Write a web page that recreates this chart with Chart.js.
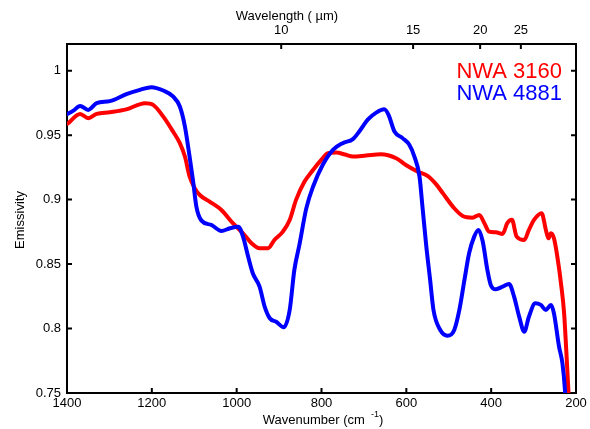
<!DOCTYPE html>
<html>
<head>
<meta charset="utf-8">
<script src="https://cdn.jsdelivr.net/npm/chart.js@4/dist/chart.umd.min.js"></script>
<style>
html,body{margin:0;padding:0;background:#fff;}
#wrap{width:590px;height:429px;}
</style>
</head>
<body>
<div id="wrap"><canvas id="c" width="590" height="429"></canvas></div>
<script>
// ---- data ----
const wavenumberTicks = [1400, 1200, 1000, 800, 600, 400, 200];
const emissivityTicks = [0.75, 0.8, 0.85, 0.9, 0.95, 1];
const wavelengthTickLabels = ['10', '15', '20', '25'];
const wavelengthTickWavenumbers = [895, 584, 426, 330];

const nwa3160Wavenumber = [1398,1369,1350,1330,1299,1260,1216,1197,1173,1150,1134,1122,1111,1099,1087,1064,1036,1009,985,965,946,926,911,891,875,860,840,820,800,785,765,745,726,695,660,624,601,573,550,530,514,487,467,444,428,416,405,389,373,362,351,340,322,311,299,281,271,265,259,252,244,234,228,223,218,216];
const nwa3160Emissivity = [0.959,0.9665,0.9632,0.9665,0.9678,0.970,0.9748,0.9735,0.9644,0.9528,0.9438,0.9334,0.918,0.9089,0.9036,0.8985,0.892,0.8817,0.8739,0.8662,0.8623,0.8623,0.8687,0.8752,0.8842,0.8998,0.914,0.923,0.931,0.936,0.9365,0.935,0.9334,0.9342,0.9352,0.9321,0.9269,0.9217,0.9184,0.912,0.905,0.8933,0.8873,0.886,0.8881,0.8817,0.8752,0.8747,0.8734,0.8817,0.8843,0.8713,0.8687,0.8765,0.8843,0.8895,0.8765,0.870,0.8739,0.870,0.8558,0.8313,0.8118,0.7834,0.7523,0.74];

const nwa4881Wavenumber = [1398,1385,1369,1350,1330,1299,1260,1228,1201,1173,1150,1134,1122,1111,1103,1095,1083,1060,1036,1016,996,985,973,962,946,934,922,907,889,875,864,852,836,820,797,773,750,726,711,691,671,652,642,628,609,593,581,569,562,553,544,536,520,503,487,475,463,452,440,430,420,409,401,389,373,358,346,334,322,311,296,283,271,259,252,240,232,226,224];
const nwa4881Emissivity = [0.9665,0.969,0.9727,0.9696,0.9748,0.9764,0.9818,0.9851,0.9872,0.9846,0.980,0.9722,0.9567,0.9334,0.915,0.8946,0.8837,0.8804,0.8757,0.8778,0.879,0.8713,0.8558,0.8429,0.8325,0.817,0.808,0.8053,0.801,0.8144,0.8455,0.865,0.893,0.910,0.927,0.9386,0.9438,0.9469,0.9528,0.962,0.9675,0.970,0.9657,0.9528,0.9477,0.9425,0.9334,0.918,0.8946,0.864,0.838,0.8144,0.7989,0.7945,0.7989,0.8144,0.8377,0.8584,0.8713,0.8765,0.8677,0.8455,0.8338,0.8305,0.8325,0.8346,0.8248,0.8092,0.7976,0.8092,0.8196,0.8183,0.8144,0.8183,0.8118,0.786,0.773,0.7523,0.74];

const seriesNames = ['NWA 3160', 'NWA 4881'];
const seriesColors = ['#ff0000', '#0000ff'];

// ---- chart ----
const FONT = '"Liberation Sans", Arial, sans-serif';
Chart.defaults.font.family = FONT;
Chart.defaults.color = '#000';

function pts(xs, ys){ return xs.map((x, i) => ({x: x, y: ys[i]})); }

const frameTicks = {
  id: 'frameTicks',
  afterDraw(chart){
    const ctx = chart.ctx, a = chart.chartArea, s = chart.scales;
    const L = 5;
    ctx.save();
    ctx.strokeStyle = '#000';
    ctx.lineWidth = 2;
    ctx.beginPath();
    wavenumberTicks.forEach(v => {
      const px = s.x.getPixelForValue(v);
      ctx.moveTo(px, a.bottom); ctx.lineTo(px, a.bottom - L);
    });
    wavelengthTickWavenumbers.forEach(v => {
      const px = s.x2.getPixelForValue(v);
      ctx.moveTo(px, a.top); ctx.lineTo(px, a.top + L);
    });
    emissivityTicks.forEach(v => {
      const py = s.y.getPixelForValue(v);
      ctx.moveTo(a.left, py); ctx.lineTo(a.left + L, py);
      ctx.moveTo(a.right, py); ctx.lineTo(a.right - L, py);
    });
    ctx.stroke();

    // axis titles
    ctx.fillStyle = '#000';
    ctx.font = '13px ' + FONT;
    ctx.textBaseline = 'middle';
    ctx.textAlign = 'center';
    ctx.fillText('Wavelength ( \u00b5m)', 287, 16);

    // bottom title with superscript
    const main = 'Wavenumber (cm ';
    const sup = '-1';
    const end = ')';
    ctx.font = '13px ' + FONT;
    const w1 = ctx.measureText(main).width;
    const w3 = ctx.measureText(end).width;
    ctx.font = '9px ' + FONT;
    const w2 = ctx.measureText(' ' + sup).width;
    const total = w1 + w2 + w3;
    let x0 = 323 - total / 2;
    ctx.textAlign = 'left';
    ctx.font = '13px ' + FONT;
    ctx.fillText(main, x0, 420);
    ctx.font = '9px ' + FONT;
    ctx.fillText(' ' + sup, x0 + w1, 415);
    ctx.font = '13px ' + FONT;
    ctx.fillText(end, x0 + w1 + w2, 420);

    // y title
    ctx.save();
    ctx.translate(20, 220);
    ctx.rotate(-Math.PI / 2);
    ctx.textAlign = 'center';
    ctx.fillText('Emissivity', 0, 0);
    ctx.restore();

    // legend
    ctx.font = '22px ' + FONT;
    ctx.textAlign = 'right';
    ctx.textBaseline = 'alphabetic';
    ctx.fillStyle = seriesColors[0];
    ctx.fillText(seriesNames[0], 562, 77.5);
    ctx.fillStyle = seriesColors[1];
    ctx.fillText(seriesNames[1], 562, 99.5);
    ctx.restore();
  }
};

new Chart(document.getElementById('c'), {
  type: 'line',
  data: {
    datasets: [
      {
        label: seriesNames[0],
        data: pts(nwa3160Wavenumber, nwa3160Emissivity),
        borderColor: seriesColors[0],
        borderWidth: 4,
        pointRadius: 0,
        cubicInterpolationMode: 'monotone',
        borderJoinStyle: 'round',
        borderCapStyle: 'round',
        fill: false,
        order: 1
      },
      {
        label: seriesNames[1],
        data: pts(nwa4881Wavenumber, nwa4881Emissivity),
        borderColor: seriesColors[1],
        borderWidth: 4,
        pointRadius: 0,
        cubicInterpolationMode: 'monotone',
        borderJoinStyle: 'round',
        borderCapStyle: 'round',
        fill: false,
        order: 0
      }
    ]
  },
  options: {
    responsive: false,
    animation: false,
    devicePixelRatio: 1,
    layout: { padding: 0 },
    plugins: { legend: { display: false }, tooltip: { enabled: false }, title: { display: false } },
    scales: {
      x: {
        type: 'linear', position: 'bottom', reverse: true, min: 200, max: 1400,
        afterFit(sc){ sc.height = 36; },
        afterBuildTicks(sc){ sc.ticks = wavenumberTicks.map(v => ({value: v})); },
        ticks: { font: { size: 13 }, padding: 3, maxRotation: 0, autoSkip: false, callback: v => String(v) },
        grid: { display: true, drawOnChartArea: false, drawTicks: false },
        border: { display: true, color: '#000', width: 2 }
      },
      x2: {
        type: 'linear', position: 'top', reverse: true, min: 200, max: 1400,
        afterFit(sc){ sc.height = 44; },
        afterBuildTicks(sc){ sc.ticks = wavelengthTickWavenumbers.map(v => ({value: v})); },
        ticks: { font: { size: 13 }, padding: 6, maxRotation: 0, autoSkip: false,
          callback: (v, i) => wavelengthTickLabels[i] },
        grid: { display: true, drawOnChartArea: false, drawTicks: false },
        border: { display: true, color: '#000', width: 2 }
      },
      y: {
        type: 'linear', position: 'left', min: 0.75, max: 1.0207,
        afterFit(sc){ sc.width = 67; },
        afterBuildTicks(sc){ sc.ticks = emissivityTicks.map(v => ({value: v})); },
        ticks: { font: { size: 13 }, padding: 6, autoSkip: false, callback: v => String(v) },
        grid: { display: true, drawOnChartArea: false, drawTicks: false },
        border: { display: true, color: '#000', width: 2 }
      },
      y2: {
        type: 'linear', position: 'right', min: 0.75, max: 1.0207,
        afterFit(sc){ sc.width = 14; },
        ticks: { display: false },
        grid: { display: true, drawOnChartArea: false, drawTicks: false },
        border: { display: true, color: '#000', width: 2 }
      }
    }
  },
  plugins: [frameTicks]
});
</script>
</body>
</html>
